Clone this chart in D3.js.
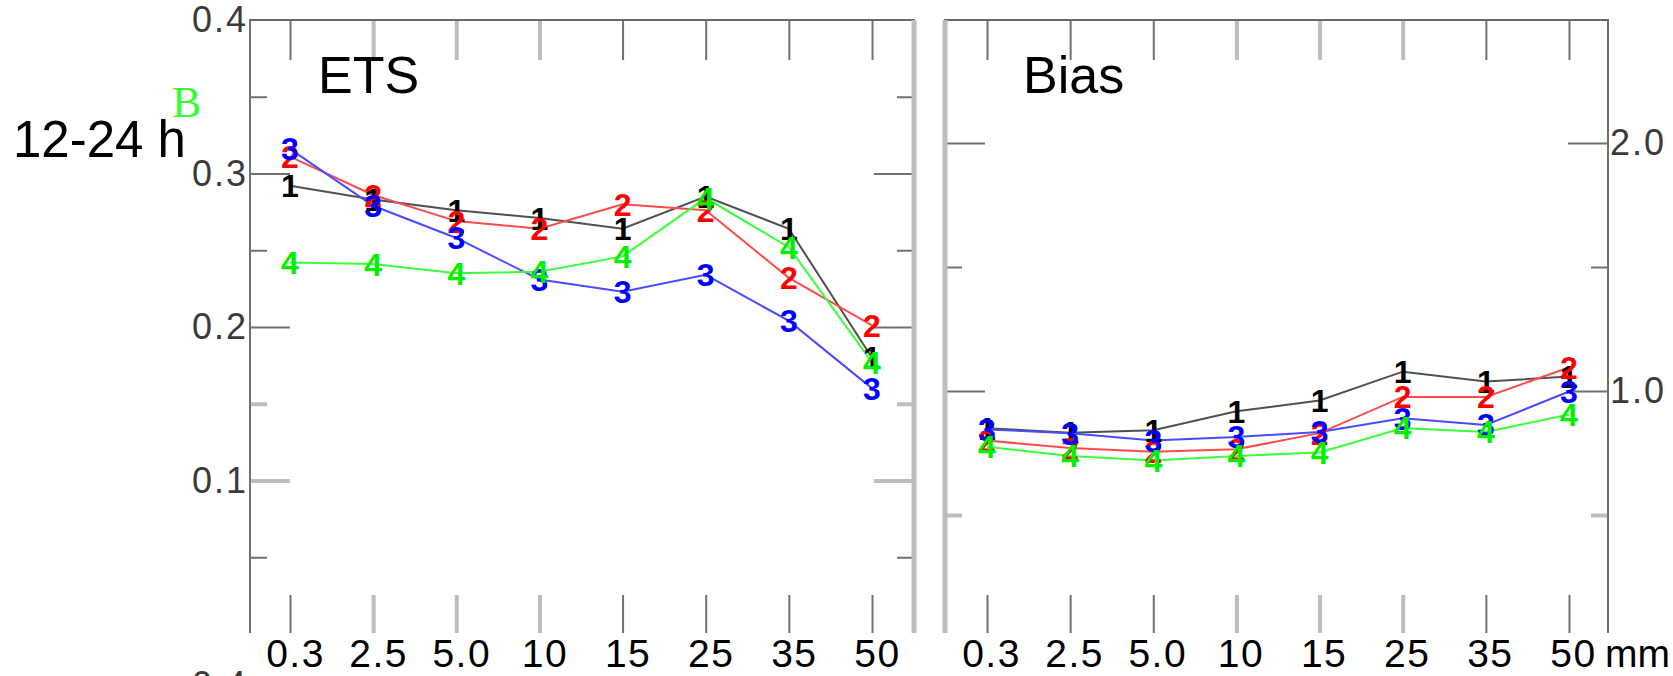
<!DOCTYPE html>
<html><head><meta charset="utf-8">
<script src="https://cdn.jsdelivr.net/npm/d3@7/dist/d3.min.js"></script>
<style>
body{margin:0;background:#fff;}
svg{display:block;font-family:"Liberation Sans",Arial,sans-serif;}
</style>
</head><body>
<svg id="c" width="1673" height="676"></svg>
<script>
// ---------- data ----------
const thresholds = ["0.3","2.5","5.0","10","15","25","35","50"];
const seriesIds = ["1","2","3","4"];
const etsS1 = [0.292,0.283,0.276,0.271,0.264,0.285,0.264,0.180];
const etsS2 = [0.311,0.286,0.269,0.264,0.280,0.276,0.232,0.201];
const etsS3 = [0.316,0.279,0.258,0.231,0.223,0.234,0.204,0.160];
const etsS4 = [0.242,0.241,0.235,0.236,0.246,0.284,0.252,0.177];
const biasS1 = [0.850,0.832,0.842,0.918,0.962,1.078,1.038,1.058];
const biasS2 = [0.800,0.770,0.755,0.765,0.830,0.976,0.976,1.095];
const biasS3 = [0.845,0.830,0.800,0.815,0.835,0.890,0.863,0.998];
const biasS4 = [0.775,0.738,0.720,0.738,0.752,0.851,0.835,0.905];
const etsMajorTicks = [0.1,0.2,0.3,0.4];
const etsMinorTicks = [0.05,0.15,0.25,0.35];
const biasMajorTicks = [1.0,2.0];
const biasMinorTicks = [0.5,1.5];
const panelTitles = ["ETS","Bias"];
const rowLabel = "12-24 h";
const groupLetter = "B";
const unitLabel = "mm";
const nextRowLabel = "0.4";

// ---------- styles ----------
const lineColors = ["#505050","#ff4a4a","#4a4aff","#3cff3c"];
const markColors = ["#000000","#ff0000","#0000ff","#00f000"];
const DARK = "#707070", LIGHT = "#bdbdbd";

const svg = d3.select("#c");

function styleTick(sel, lightFn){
  sel.select("line")
    .attr("stroke",(d,i)=>lightFn(d,i)?LIGHT:DARK)
    .attr("stroke-width",(d,i)=>lightFn(d,i)?4:2);
}

function drawPanel(cfg){
  const g = svg.append("g");
  const x = d3.scalePoint().domain(thresholds).range(cfg.xr);
  const y = d3.scaleLinear().domain(cfg.yd).range(cfg.yr);

  // bottom x axis
  const xb = g.append("g").attr("transform",`translate(0,${cfg.y1})`)
    .call(d3.axisBottom(x).tickSizeInner(-38).tickSizeOuter(0).tickPadding(0));
  xb.select(".domain").remove();
  xb.selectAll(".tick").call(s=>styleTick(s,(d,i)=>cfg.xLight.includes(i)));
  xb.selectAll(".tick text").attr("y",34).attr("dy",0).attr("dx",cfg.xdx)
    .attr("font-size",39).attr("fill","#000").attr("letter-spacing",1.5)
    .attr("font-family","'Liberation Sans',Arial,sans-serif");

  // top x ticks
  const xt = g.append("g").attr("transform",`translate(0,${cfg.y0})`)
    .call(d3.axisTop(x).tickSizeInner(-40).tickSizeOuter(0).tickFormat(""));
  xt.select(".domain").remove();
  xt.selectAll(".tick").call(s=>styleTick(s,(d,i)=>cfg.xLight.includes(i)));

  // y ticks (both sides)
  const sides = [
    {x:cfg.x0, gen:d3.axisLeft, labels:cfg.labelSide==="left"},
    {x:cfg.x1, gen:d3.axisRight, labels:cfg.labelSide==="right"}
  ];
  sides.forEach(sd=>{
    const ma = g.append("g").attr("transform",`translate(${sd.x},0)`)
      .call(sd.gen(y).tickValues(cfg.major).tickSizeInner(-40).tickSizeOuter(0)
        .tickPadding(2).tickFormat(sd.labels ? d3.format(".1f") : ""));
    ma.select(".domain").remove();
    ma.selectAll(".tick").call(s=>styleTick(s,d=>cfg.yLight.includes(d)));
    ma.selectAll(".tick line").filter(d=>d===cfg.yd[1]).remove();
    ma.selectAll(".tick text").attr("font-size",36).attr("fill","#3a3a3a")
      .attr("letter-spacing",2)
      .attr("font-family","'Liberation Sans',Arial,sans-serif");
    const mi = g.append("g").attr("transform",`translate(${sd.x},0)`)
      .call(sd.gen(y).tickValues(cfg.minor).tickSizeInner(-17).tickSizeOuter(0).tickFormat(""));
    mi.select(".domain").remove();
    mi.selectAll(".tick").call(s=>styleTick(s,d=>cfg.yLight.includes(d)));
  });

  // frame
  g.append("line").attr("x1",cfg.x0-1).attr("x2",cfg.x1+1).attr("y1",cfg.y0).attr("y2",cfg.y0)
    .attr("stroke","#686868").attr("stroke-width",2);
  g.append("line").attr("x1",cfg.x0).attr("x2",cfg.x0).attr("y1",cfg.y0).attr("y2",cfg.y1)
    .attr("stroke",cfg.leftLight?LIGHT:DARK).attr("stroke-width",cfg.leftLight?5:2);
  g.append("line").attr("x1",cfg.x1).attr("x2",cfg.x1).attr("y1",cfg.y0).attr("y2",cfg.y1)
    .attr("stroke",cfg.rightLight?LIGHT:DARK).attr("stroke-width",cfg.rightLight?5:2);

  // title
  g.append("text").attr("x",cfg.titleX).attr("y",93).attr("font-size",52)
    .attr("fill","#000").text(cfg.title);

  // series
  const line = d3.line().x(d=>x(d.t)).y(d=>y(d.v));
  cfg.series.forEach((vals,si)=>{
    const pts = thresholds.map((t,i)=>({t, v:vals[i]}));
    g.append("path").datum(pts).attr("d",line).attr("fill","none")
      .attr("stroke",lineColors[si]).attr("stroke-width",2);
  });
  cfg.series.forEach((vals,si)=>{
    const pts = thresholds.map((t,i)=>({t, v:vals[i]}));
    g.selectAll(null).data(pts).enter().append("text")
      .attr("x",d=>x(d.t)).attr("y",d=>y(d.v)).attr("dy","0.36em")
      .attr("text-anchor","middle").attr("font-size",32).attr("font-weight","bold")
      .attr("fill",markColors[si]).text(seriesIds[si]);
  });
  return {x,y};
}

drawPanel({
  x0:250, x1:914, y0:20, y1:633, xr:[290,872], yd:[0,0.4], yr:[634,20],
  major:etsMajorTicks, minor:etsMinorTicks, labelSide:"left",
  xLight:[1,2,3], yLight:[0.1,0.15], leftLight:false, rightLight:true,
  title:panelTitles[0], titleX:318, xdx:5,
  series:[etsS1,etsS2,etsS3,etsS4]
});
drawPanel({
  x0:945, x1:1608, y0:20, y1:633, xr:[987,1569], yd:[0,2.5], yr:[639,19],
  major:biasMajorTicks, minor:biasMinorTicks, labelSide:"right",
  xLight:[3,4,5], yLight:[0.5], leftLight:true, rightLight:false,
  title:panelTitles[1], titleX:1023, xdx:4,
  series:[biasS1,biasS2,biasS3,biasS4]
});

// unit label
svg.append("text").attr("x",1605).attr("y",667).attr("font-size",39)
  .attr("fill","#000").text(unitLabel);
// row label
svg.append("text").attr("x",13).attr("y",157).attr("font-size",51)
  .attr("fill","#000").text(rowLabel);
svg.append("text").attr("x",172).attr("y",117).attr("font-size",44)
  .attr("font-family","'Liberation Serif',serif").attr("fill","#33ff33").text(groupLetter);
// top of next row's axis label (cropped)
svg.append("text").attr("x",248).attr("y",697).attr("text-anchor","end").attr("font-size",36)
  .attr("letter-spacing",2).attr("fill","#3a3a3a").text(nextRowLabel);
</script>
</body></html>
